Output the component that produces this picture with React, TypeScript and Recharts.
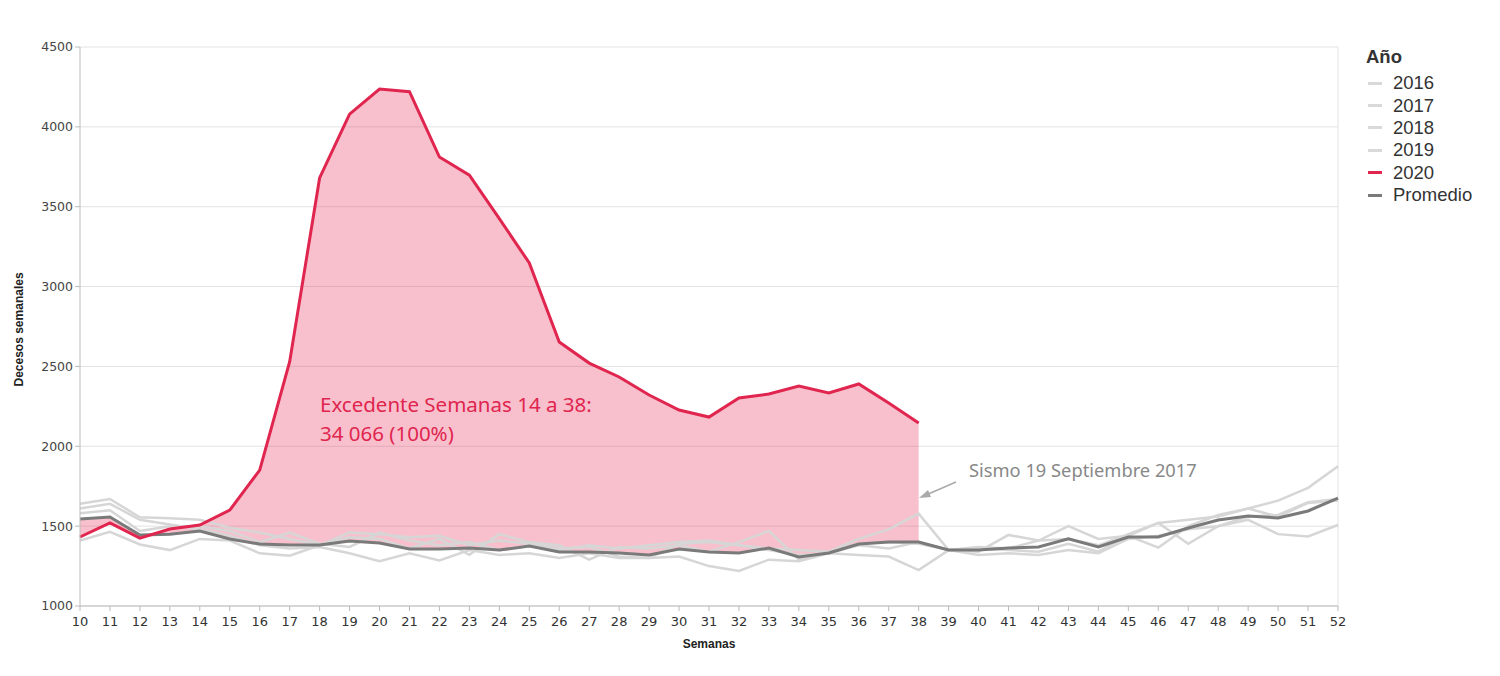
import { Area, CartesianGrid, ComposedChart, Line, ReferenceLine, XAxis, YAxis } from "recharts";

const weeks = [
  10, 11, 12, 13, 14, 15, 16, 17, 18, 19, 20, 21, 22, 23, 24, 25, 26, 27, 28, 29, 30, 31,
  32, 33, 34, 35, 36, 37, 38, 39, 40, 41, 42, 43, 44, 45, 46, 47, 48, 49, 50, 51, 52,
];

const deaths2016 = [
  1610, 1640, 1540, 1510, 1480, 1440, 1380, 1360, 1370, 1330, 1280, 1330, 1285, 1350, 1320,
  1330, 1300, 1330, 1300, 1300, 1310, 1250, 1220, 1290, 1280, 1330, 1320, 1310, 1225, 1350,
  1320, 1330, 1320, 1350, 1330, 1420, 1440, 1480, 1500, 1540, 1450, 1435, 1507,
];
const deaths2017 = [
  1410, 1465, 1385, 1350, 1420, 1410, 1330, 1315, 1380, 1430, 1420, 1360, 1420, 1320, 1450,
  1400, 1380, 1290, 1370, 1360, 1380, 1340, 1400, 1470, 1290, 1340, 1420, 1480, 1578, 1350,
  1340, 1445, 1410, 1500, 1420, 1440, 1365, 1500, 1570, 1610, 1560, 1645, 1660,
];
const deaths2018 = [
  1640, 1670, 1555, 1550, 1540, 1490, 1460, 1420, 1380, 1460, 1450, 1430, 1440, 1380, 1410,
  1390, 1360, 1370, 1310, 1300, 1390, 1400, 1380, 1360, 1350, 1340, 1390, 1400, 1390, 1350,
  1370, 1360, 1410, 1420, 1380, 1450, 1520, 1540, 1560, 1610, 1660, 1740, 1875,
];
const deaths2019 = [
  1580, 1600, 1470, 1500, 1500, 1470, 1400, 1460, 1390, 1370, 1460, 1410, 1380, 1400, 1350,
  1380, 1350, 1380, 1360, 1380, 1400, 1410, 1380, 1350, 1320, 1330, 1380, 1360, 1400, 1350,
  1360, 1350, 1340, 1390, 1340, 1440, 1520, 1390, 1500, 1560, 1570, 1650, 1670,
];
// 2020 only runs to week 38
const deaths2020 = [
  1432, 1520, 1425, 1482, 1507, 1600, 1851, 2530, 3680, 4080, 4237, 4220, 3811, 3698, 3425,
  3148, 2653, 2521, 2434, 2321, 2227, 2183, 2302, 2327, 2377, 2334, 2390, 2271, 2146,
];
const promedio = [
  1545, 1557, 1445, 1450, 1470, 1420, 1388, 1382, 1382, 1407, 1395, 1357, 1357, 1363, 1350,
  1376, 1338, 1338, 1332, 1319, 1357, 1338, 1332, 1363, 1307, 1332, 1388, 1401, 1401, 1351,
  1351, 1363, 1370, 1420, 1370, 1432, 1432, 1488, 1538, 1563, 1551, 1595, 1676,
];

const yTicks = [1000, 1500, 2000, 2500, 3000, 3500, 4000, 4500];

const legendItems = [
  { name: "2016", color: "#d9d9d9" },
  { name: "2017", color: "#d9d9d9" },
  { name: "2018", color: "#d9d9d9" },
  { name: "2019", color: "#d9d9d9" },
  { name: "2020", color: "#e0254f" },
  { name: "Promedio", color: "#7a7a7a" },
];

const rows = weeks.map((w, i) => ({
  semana: w,
  y2016: deaths2016[i],
  y2017: deaths2017[i],
  y2018: deaths2018[i],
  y2019: deaths2019[i],
  y2020: i < deaths2020.length ? deaths2020[i] : null,
  promedio: promedio[i],
  excedente: i < deaths2020.length ? [promedio[i], deaths2020[i]] : null,
}));

const GRAY = "#d6d6d6";
const RED = "#e0254f";

export default function App() {
  return (
    <div style={{ position: "relative", width: 1500, height: 676, fontFamily: "Liberation Sans, Arial, sans-serif" }}>
      <style>{"body{margin:0}"}</style>
      <ComposedChart
        width={1500}
        height={676}
        data={rows}
        margin={{ top: 47, right: 162, bottom: 30, left: 10 }}
      >
        <CartesianGrid horizontal vertical={false} stroke="#e2e2e2" />
        <XAxis
          dataKey="semana"
          type="number"
          domain={[10, 52]}
          ticks={weeks}
          interval={0}
          height={40}
          stroke="#bbb"
          tickSize={5}
          tick={{ fontSize: 13, fill: "#333", fontFamily: "DejaVu Sans", dy: 4 }}
          label={{ value: "Semanas", position: "insideBottom", offset: -2, fontSize: 12, fontWeight: "bold", fill: "#222" }}
        />
        <YAxis
          domain={[1000, 4500]}
          ticks={yTicks}
          width={70}
          stroke="#bbb"
          tickSize={5}
          tick={{ fontSize: 12.5, fill: "#444", fontFamily: "DejaVu Sans" }}
          label={{ value: "Decesos semanales", angle: -90, position: "insideLeft", offset: 9, dy: 60, fontSize: 12, fontWeight: "bold", fill: "#222" }}
        />
        <ReferenceLine x={52} stroke="#e2e2e2" />
        <Line dataKey="y2016" stroke={GRAY} strokeWidth={2.5} dot={false} isAnimationActive={false} />
        <Line dataKey="y2017" stroke={GRAY} strokeWidth={2.5} dot={false} isAnimationActive={false} />
        <Line dataKey="y2018" stroke={GRAY} strokeWidth={2.5} dot={false} isAnimationActive={false} />
        <Line dataKey="y2019" stroke={GRAY} strokeWidth={2.5} dot={false} isAnimationActive={false} />
        <Area
          dataKey="excedente"
          type="linear"
          stroke="none"
          fill="#e8305a"
          fillOpacity={0.3}
          isAnimationActive={false}
        />
        <Line dataKey="promedio" stroke="#7a7a7a" strokeWidth={3} dot={false} isAnimationActive={false} />
        <Line dataKey="y2020" stroke={RED} strokeWidth={3} dot={false} isAnimationActive={false} />
      </ComposedChart>

      <svg width={1500} height={676} style={{ position: "absolute", left: 0, top: 0, pointerEvents: "none" }}>
        <text x={320} y={412} fontSize={20.5} fill={RED} fontFamily="Noto Sans">Excedente Semanas 14 a 38:</text>
        <text x={320} y={441} fontSize={20.5} fill={RED} fontFamily="Noto Sans">34 066 (100%)</text>
        <text x={969} y={477} fontSize={18.3} fill="#888" fontFamily="Noto Sans">Sismo 19 Septiembre 2017</text>
        <line x1={956} y1={482} x2={926} y2={495} stroke="#aaa" strokeWidth={1.5} />
        <polygon points="919,498 928,490 931,497" fill="#aaa" />
      </svg>

      <div style={{ position: "absolute", left: 1366, top: 46, color: "#333" }}>
        <div style={{ fontWeight: "bold", fontSize: 18.5, marginBottom: 4 }}>Año</div>
        {legendItems.map((it) => (
          <div key={it.name} style={{ display: "flex", alignItems: "center", height: 22.4, fontSize: 18.5 }}>
            <span style={{ display: "inline-block", width: 14, height: 3, background: it.color, marginRight: 11, marginLeft: 2 }} />
            {it.name}
          </div>
        ))}
      </div>
    </div>
  );
}
